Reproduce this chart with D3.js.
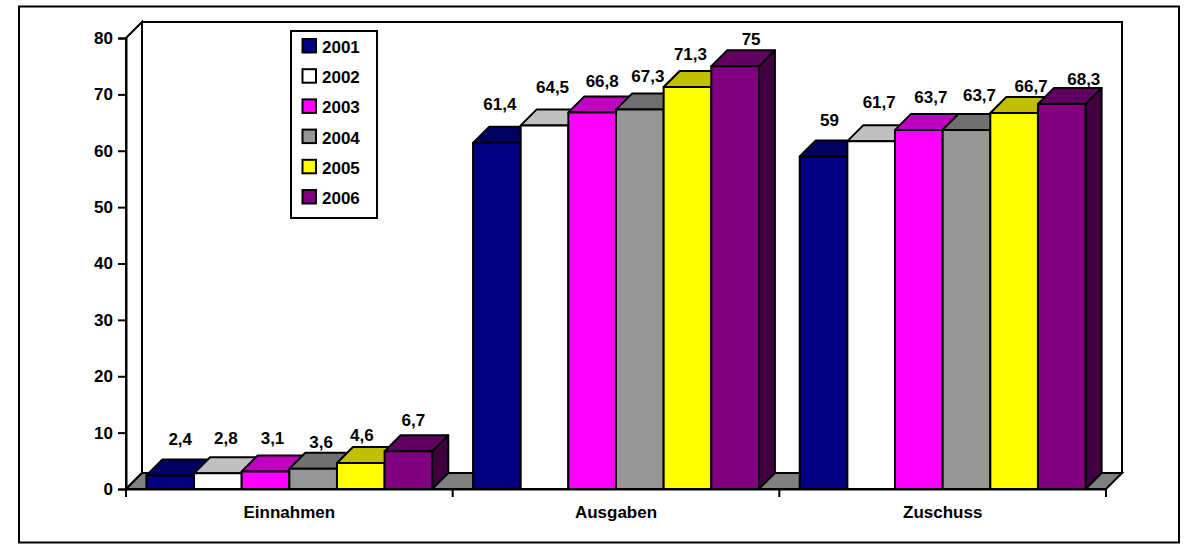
<!DOCTYPE html>
<html>
<head>
<meta charset="utf-8">
<script src="https://cdn.jsdelivr.net/npm/d3@7"></script>
<style>
    html, body { margin: 0; padding: 0; background: #fff; }
    svg { display: block; }
    text { font-family: "Liberation Sans", Arial, sans-serif; font-weight: bold; fill: #000; }
</style>
</head>
<body>
<div id="chart"></div>
<script>
const categories = ["Einnahmen", "Ausgaben", "Zuschuss"];
const years = ["2001", "2002", "2003", "2004", "2005", "2006"];
const einnahmen = [2.4, 2.8, 3.1, 3.6, 4.6, 6.7];
const ausgaben = [61.4, 64.5, 66.8, 67.3, 71.3, 75];
const zuschuss = [59, 61.7, 63.7, 63.7, 66.7, 68.3];
const yTicks = [0, 10, 20, 30, 40, 50, 60, 70, 80];

const seriesByCategory = [einnahmen, ausgaben, zuschuss];

// front, top and side shade per year
const frontColors = ["#000080", "#ffffff", "#ff00ff", "#969696", "#ffff00", "#800080"];
const topColors = ["#000060", "#c0c0c0", "#c000c0", "#707070", "#c0c000", "#600060"];
const sideColors = ["#000040", "#808080", "#800080", "#4b4b4b", "#808000", "#400040"];

// hand placed data labels: shift from the default spot above each bar
const labelDx = [
    [2, 0, -1, 0, -7, -3],
    [-5, 0, 2, 0, -5, 8],
    [-2, 0, 4, 5, 9, 14]
];
const labelDy = [
    [-4, -3, -2, 5, 4, 1],
    [-7, -6, 1, -2, -1, 5],
    [-4, -7, -1, -3, 5, 7]
];

const width = 1197, height = 547;
const depth = 16;
const plot = { left: 126, right: 1106, top: 38, bottom: 489 };

const svg = d3.select("#chart").append("svg")
    .attr("width", width)
    .attr("height", height);

const x0 = d3.scaleBand()
    .domain(categories)
    .range([plot.left, plot.right]);

const x1 = d3.scaleBand()
    .domain(years)
    .range([20.4, x0.bandwidth() - 20.4]);

const y = d3.scaleLinear()
    .domain([0, 80])
    .range([plot.bottom, plot.top]);

const poly = pts => pts.map(p => p.join(",")).join(" ");

// outer frame
svg.append("rect")
    .attr("x", 19).attr("y", 6.5)
    .attr("width", 1160).attr("height", 536)
    .attr("fill", "#fff")
    .attr("stroke", "#000")
    .attr("stroke-width", 2);

// walls
svg.append("polygon")
    .attr("points", poly([
        [plot.left, plot.bottom],
        [plot.left, plot.top],
        [plot.left + depth, plot.top - depth],
        [plot.left + depth, plot.bottom - depth]
    ]))
    .attr("fill", "#fff").attr("stroke", "#000").attr("stroke-width", 2);

svg.append("rect")
    .attr("x", plot.left + depth).attr("y", plot.top - depth)
    .attr("width", plot.right - plot.left)
    .attr("height", plot.bottom - plot.top)
    .attr("fill", "#fff").attr("stroke", "#000").attr("stroke-width", 2);

// floor
svg.append("polygon")
    .attr("points", poly([
        [plot.left, plot.bottom],
        [plot.left + depth, plot.bottom - depth],
        [plot.right + depth, plot.bottom - depth],
        [plot.right, plot.bottom]
    ]))
    .attr("fill", "#808080").attr("stroke", "#000").attr("stroke-width", 2);

// bars, left to right so each one covers the side of the previous
const bars = categories.flatMap((c, i) =>
    years.map((yr, j) => ({
        category: c, year: yr, j, i,
        value: seriesByCategory[i][j]
    }))
);

const barG = svg.selectAll(".bar")
    .data(bars)
    .enter()
    .append("g")
    .attr("class", "bar")
    .attr("stroke", "#000")
    .attr("stroke-width", 2)
    .attr("stroke-linejoin", "round");

barG.append("polygon")
    .attr("fill", d => sideColors[d.j])
    .attr("points", d => {
        const xr = x0(d.category) + x1(d.year) + x1.bandwidth();
        return poly([
            [xr, y(d.value)], [xr + depth, y(d.value) - depth],
            [xr + depth, y(0) - depth], [xr, y(0)]
        ]);
    });

barG.append("polygon")
    .attr("fill", d => topColors[d.j])
    .attr("points", d => {
        const xl = x0(d.category) + x1(d.year);
        const xr = xl + x1.bandwidth();
        return poly([
            [xl, y(d.value)], [xl + depth, y(d.value) - depth],
            [xr + depth, y(d.value) - depth], [xr, y(d.value)]
        ]);
    });

barG.append("rect")
    .attr("x", d => x0(d.category) + x1(d.year))
    .attr("y", d => y(d.value))
    .attr("width", x1.bandwidth())
    .attr("height", d => y(0) - y(d.value))
    .attr("fill", d => frontColors[d.j]);

// value axis
const yAxis = svg.append("g")
    .attr("transform", `translate(${plot.left},0)`)
    .call(d3.axisLeft(y).tickValues(yTicks).tickSize(8).tickPadding(5));
yAxis.selectAll("line,path").attr("stroke", "#000").attr("stroke-width", 2);
yAxis.selectAll("text").style("font-size", "17px");

// category axis, ticks sit on the band edges
const xAxis = svg.append("g")
    .attr("transform", `translate(0,${plot.bottom})`)
    .call(d3.axisBottom(x0).tickSize(0).tickPadding(17));
xAxis.select("path").attr("stroke", "#000").attr("stroke-width", 2);
xAxis.selectAll("text").style("font-size", "17px");

svg.append("g")
    .selectAll("line")
    .data(categories.concat("end"))
    .enter()
    .append("line")
    .attr("x1", (d, i) => plot.left + i * x0.bandwidth())
    .attr("x2", (d, i) => plot.left + i * x0.bandwidth())
    .attr("y1", plot.bottom)
    .attr("y2", plot.bottom + 8)
    .attr("stroke", "#000")
    .attr("stroke-width", 2);

// data labels
svg.selectAll(".label")
    .data(bars)
    .enter()
    .append("text")
    .attr("class", "label")
    .attr("text-anchor", "middle")
    .style("font-size", "17px")
    .attr("x", d => x0(d.category) + x1(d.year) + x1.bandwidth() / 2 + depth / 2 + labelDx[d.i][d.j])
    .attr("y", d => y(d.value) - depth - 10 + labelDy[d.i][d.j])
    .text(d => String(d.value).replace(".", ","));

// legend
const legend = svg.append("g");
legend.append("rect")
    .attr("x", 291).attr("y", 31)
    .attr("width", 86).attr("height", 187)
    .attr("fill", "#fff")
    .attr("stroke", "#000")
    .attr("stroke-width", 2);

const legendY = d3.scalePoint()
    .domain(years)
    .range([46, 197]);

legend.selectAll("rect.swatch")
    .data(years)
    .enter()
    .append("rect")
    .attr("class", "swatch")
    .attr("x", 302.5)
    .attr("y", d => legendY(d) - 7)
    .attr("width", 13.5)
    .attr("height", 13.5)
    .attr("fill", (d, i) => frontColors[i])
    .attr("stroke", "#000")
    .attr("stroke-width", 2);

legend.selectAll("text")
    .data(years)
    .enter()
    .append("text")
    .attr("x", 322)
    .attr("y", d => legendY(d) + 7)
    .style("font-size", "17px")
    .text(d => d);
</script>
</body>
</html>
